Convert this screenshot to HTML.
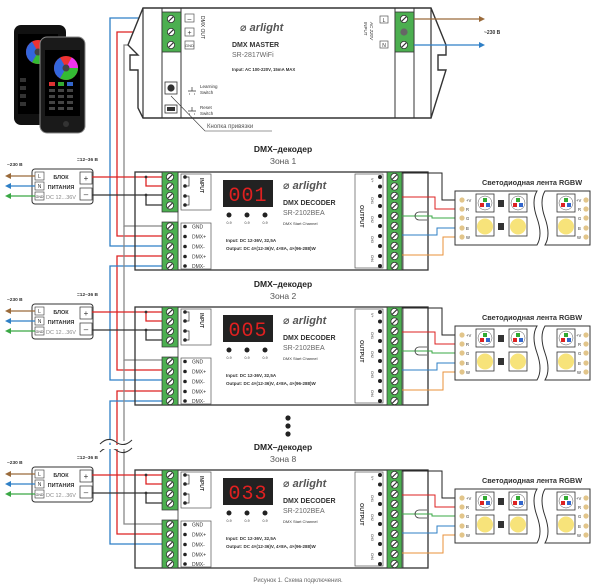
<!DOCTYPE html>
<html><head><meta charset="utf-8"><style>
html,body{margin:0;padding:0;background:#fff;}
svg{display:block;font-family:"Liberation Sans","DejaVu Sans",sans-serif;}
</style></head><body>
<svg width="600" height="588" viewBox="0 0 600 588" xmlns="http://www.w3.org/2000/svg">
<defs>
<g id="scr"><circle r="3.6" fill="#fff" stroke="#333" stroke-width="0.8"/><line x1="-2.2" y1="2.2" x2="2.2" y2="-2.2" stroke="#333" stroke-width="1.1"/></g>
<g id="wheel"><circle r="6" fill="none" stroke="#e33" stroke-width="12"/><circle r="6" fill="none" stroke="#3b3" stroke-width="12" stroke-dasharray="12.5 25.2"/><circle r="6" fill="none" stroke="#36d" stroke-width="12" stroke-dasharray="0 12.5 12.5 12.7"/><circle r="6" fill="none" stroke="#e3e" stroke-width="12" stroke-dasharray="0 31 6.7 0"/><circle r="3.5" fill="#444"/></g>
</defs>

<!-- phones -->
<rect x="14" y="25" width="52" height="100" rx="7" fill="#111"/>
<rect x="18" y="34" width="40" height="80" fill="#000"/>
<use href="#wheel" x="38" y="52"/>
<g fill="#333"><rect x="20" y="78" width="6" height="4"/><rect x="20" y="86" width="6" height="4"/><rect x="20" y="94" width="6" height="4"/><rect x="20" y="102" width="6" height="4"/></g>
<rect x="40" y="37" width="45" height="96" rx="7" fill="#1a1a1a" stroke="#888" stroke-width="1"/>
<rect x="45" y="50" width="35" height="66" fill="#000"/>
<use href="#wheel" x="66" y="68"/>
<rect x="49" y="82" width="6" height="4" fill="#d33"/><rect x="58" y="82" width="6" height="4" fill="#3a3"/><rect x="67" y="82" width="6" height="4" fill="#36c"/>
<g fill="#444"><rect x="49" y="89" width="6" height="3"/><rect x="58" y="89" width="6" height="3"/><rect x="67" y="89" width="6" height="3"/><rect x="49" y="95" width="6" height="3"/><rect x="58" y="95" width="6" height="3"/><rect x="67" y="95" width="6" height="3"/><rect x="49" y="101" width="6" height="3"/><rect x="58" y="101" width="6" height="3"/><rect x="67" y="101" width="6" height="3"/><rect x="49" y="107" width="6" height="3"/><rect x="58" y="107" width="6" height="3"/><rect x="67" y="107" width="6" height="3"/></g>
<circle cx="66" cy="124" r="3" fill="#333"/>

<!-- master wires -->
<polyline points="162,18 110,18 110,246 162,246" fill="none" stroke="#2e7fc6" stroke-width="1.3"/>
<polyline points="162,32 117,32 117,236 162,236" fill="none" stroke="#d22" stroke-width="1.3"/>
<polyline points="142,45 124,45 124,226 162,226" fill="none" stroke="#888" stroke-width="1.3"/>

<!-- master box -->
<path d="M143,8 L431,8 L446,45 L446,55 L438,55 L438,70 L446,70 L431,118 L143,118 L138,108 L138,70 L130,70 L130,55 L138,55 L128,45 Z" fill="#fff" stroke="#333" stroke-width="1.4"/>
<line x1="143" y1="8" x2="143" y2="118" stroke="#333" stroke-width="1.2"/>
<line x1="431" y1="8" x2="431" y2="118" stroke="#333" stroke-width="1.2"/>
<line x1="162" y1="8" x2="162" y2="118" stroke="#333" stroke-width="1"/>
<line x1="181" y1="8" x2="181" y2="118" stroke="#333" stroke-width="1"/>
<line x1="395" y1="8" x2="395" y2="118" stroke="#333" stroke-width="1"/>
<line x1="414" y1="8" x2="414" y2="118" stroke="#333" stroke-width="1"/>
<rect x="162" y="12" width="19" height="40" fill="#4caf50" stroke="#333" stroke-width="0.8"/>
<use href="#scr" x="171" y="19"/><use href="#scr" x="171" y="32"/><use href="#scr" x="171" y="45"/>
<g font-size="7" fill="#333" text-anchor="middle"><rect x="185" y="14" width="9" height="8" fill="none" stroke="#555" stroke-width="0.7"/><text x="189.5" y="21">–</text>
<rect x="185" y="28" width="9" height="8" fill="none" stroke="#555" stroke-width="0.7"/><text x="189.5" y="35">+</text>
<rect x="185" y="41" width="9" height="8" fill="none" stroke="#555" stroke-width="0.7"/><text x="189.5" y="47" font-size="4">GND</text></g>
<text transform="translate(201,16) rotate(90)" font-size="5" fill="#333">DMX OUT</text>
<text x="240" y="31" font-size="11" font-style="italic" font-weight="bold" fill="#555">⌀ arlight</text>
<text x="232" y="47" font-size="7" font-weight="bold" fill="#333">DMX MASTER</text>
<text x="232" y="57" font-size="7" fill="#666">SR-2817WiFi</text>
<text x="232" y="71" font-size="4.3" font-weight="bold" fill="#333">Input: AC 100-220V, 15mA MAX</text>
<rect x="165" y="82" width="12" height="12" fill="#fff" stroke="#333" stroke-width="0.8"/><circle cx="171" cy="88" r="3.6" fill="#333"/>
<rect x="165" y="105" width="12" height="8" fill="#fff" stroke="#333" stroke-width="0.8"/><rect x="167" y="107" width="8" height="4" fill="#333"/>
<g stroke="#333" stroke-width="0.7" fill="none"><path d="M188,91 h8 M192,91 v-4 M189,94 h1 M194,94 h1"/><path d="M188,111 h8 M192,111 v-4 M189,114 h1 M194,114 h1"/></g>
<text x="200" y="88" font-size="4.5" fill="#333">Learning</text><text x="200" y="94" font-size="4.5" fill="#333">Switch</text>
<text x="200" y="109" font-size="4.5" fill="#333">Reset</text><text x="200" y="115" font-size="4.5" fill="#333">Switch</text>
<polyline points="171,96 205,131 272,131" fill="none" stroke="#333" stroke-width="0.6"/>
<text x="207" y="128" font-size="6" fill="#555">Кнопка привязки</text>
<rect x="395" y="12" width="19" height="40" fill="#4caf50" stroke="#333" stroke-width="0.8"/>
<use href="#scr" x="404" y="19"/><circle cx="404" cy="32" r="3.6" fill="#666"/><use href="#scr" x="404" y="45"/>
<g font-size="5" fill="#333" text-anchor="middle"><rect x="380" y="16" width="8" height="7" fill="none" stroke="#555" stroke-width="0.7"/><text x="384" y="22">L</text>
<rect x="380" y="41" width="8" height="7" fill="none" stroke="#555" stroke-width="0.7"/><text x="384" y="47">N</text></g>
<text transform="translate(364,22) rotate(90)" font-size="4.5" fill="#333">INPUT</text>
<text transform="translate(370,22) rotate(90)" font-size="4.5" fill="#333" font-style="italic">AC 220V</text>
<line x1="414" y1="19" x2="480" y2="19" stroke="#9a6a3a" stroke-width="1.2"/><path d="M479,16 L485,19 L479,22 Z" fill="#9a6a3a"/>
<line x1="414" y1="45" x2="480" y2="45" stroke="#2e7fc6" stroke-width="1.2"/><path d="M479,42 L485,45 L479,48 Z" fill="#2e7fc6"/>
<text x="484" y="34" font-size="5" font-weight="bold" fill="#333">~230 В</text>

<!-- inter-zone DMX wires -->
<polyline points="162,256 117,256 117,370 162,370" fill="none" stroke="#d22" stroke-width="1.3"/>
<polyline points="162,266 110,266 110,380 162,380" fill="none" stroke="#2e7fc6" stroke-width="1.3"/>
<polyline points="124,226 124,360 162,360" fill="none" stroke="#888" stroke-width="1.3"/>
<polyline points="162,391 117,391 117,534 162,534" fill="none" stroke="#d22" stroke-width="1.3"/>
<polyline points="162,401 110,401 110,544 162,544" fill="none" stroke="#2e7fc6" stroke-width="1.3"/>
<polyline points="124,360 124,524 162,524" fill="none" stroke="#888" stroke-width="1.3"/>
<path d="M100,444 q8,-8 16,-2 q8,6 16,-2" fill="#fff" stroke="#333" stroke-width="1"/>
<path d="M100,452 q8,-8 16,-2 q8,6 16,-2" fill="none" stroke="#333" stroke-width="1"/>
<rect x="103" y="445" width="26" height="4" fill="#fff"/>
<g fill="#222"><circle cx="288" cy="418" r="2.6"/><circle cx="288" cy="426" r="2.6"/><circle cx="288" cy="434" r="2.6"/></g>

<!-- ZONE 1 -->
<g id="z1">
<text x="283" y="152" font-size="8.5" font-weight="bold" fill="#222" text-anchor="middle">DMX–декодер</text>
<text x="283" y="164" font-size="8.5" fill="#555" text-anchor="middle">Зона 1</text>
<rect x="32" y="169" width="61" height="35" rx="3" fill="#fff" stroke="#333" stroke-width="1"/>
<g font-size="5" fill="#333" text-anchor="middle"><rect x="35" y="172" width="9" height="8" fill="none" stroke="#333" stroke-width="0.6"/><text x="39.5" y="178">L</text><rect x="35" y="182" width="9" height="8" fill="none" stroke="#333" stroke-width="0.6"/><text x="39.5" y="188">N</text><rect x="35" y="192" width="9" height="8" fill="none" stroke="#333" stroke-width="0.6"/><text x="39.5" y="198" font-size="3.5">GND</text>
<text x="61" y="179" font-weight="bold" font-size="5.5">БЛОК</text><text x="61" y="189" font-weight="bold" font-size="5.5">ПИТАНИЯ</text><text x="61" y="199" fill="#888" font-size="5.5">DC 12...36V</text>
<rect x="80" y="172" width="12" height="12" fill="none" stroke="#333" stroke-width="0.7"/><text x="86" y="181" font-size="8">+</text><rect x="80" y="188" width="12" height="12" fill="none" stroke="#333" stroke-width="0.7"/><text x="86" y="197" font-size="8">–</text></g>
<text x="7" y="166" font-size="4.8" font-weight="bold" fill="#333">~230 В</text>
<text x="77" y="161" font-size="4.8" font-weight="bold" fill="#333">=12–36 В</text>
<line x1="10" y1="176" x2="35" y2="176" stroke="#9a6a3a" stroke-width="1.2"/><path d="M11,173 L5,176 L11,179Z" fill="#9a6a3a"/>
<line x1="10" y1="186" x2="35" y2="186" stroke="#2e7fc6" stroke-width="1.2"/><path d="M11,183 L5,186 L11,189Z" fill="#2e7fc6"/>
<line x1="10" y1="196" x2="35" y2="196" stroke="#3aa845" stroke-width="1.2"/><path d="M11,193 L5,196 L11,199Z" fill="#3aa845"/>
<polyline points="92,177 162,177" fill="none" stroke="#d22" stroke-width="1.3"/><polyline points="146,177 146,186 162,186" fill="none" stroke="#d22" stroke-width="1.3"/><circle cx="146" cy="177" r="1.4" fill="#333"/>
<polyline points="92,195 162,195" fill="none" stroke="#333" stroke-width="1.3"/><polyline points="146,195 146,205 162,205" fill="none" stroke="#333" stroke-width="1.3"/><circle cx="146" cy="195" r="1.4" fill="#333"/>
<rect x="135" y="172" width="293" height="98" fill="none" stroke="#333" stroke-width="1.3"/>
<line x1="178" y1="172" x2="178" y2="270" stroke="#333" stroke-width="0.8"/>
<rect x="162" y="172" width="16" height="40" fill="#4caf50" stroke="#333" stroke-width="0.7"/>
<use href="#scr" x="170" y="177"/><use href="#scr" x="170" y="186.5"/><use href="#scr" x="170" y="196"/><use href="#scr" x="170" y="205.5"/>
<rect x="162" y="222" width="16" height="48" fill="#4caf50" stroke="#333" stroke-width="0.7"/>
<use href="#scr" x="170" y="226.5"/><use href="#scr" x="170" y="236.5"/><use href="#scr" x="170" y="246.5"/><use href="#scr" x="170" y="256.5"/><use href="#scr" x="170" y="266"/>
<rect x="181" y="174" width="30" height="36" fill="none" stroke="#555" stroke-width="0.7"/>
<g fill="#222"><circle cx="185" cy="177" r="1.8"/><circle cx="185" cy="186" r="1.8"/><circle cx="185" cy="196" r="1.8"/><circle cx="185" cy="205" r="1.8"/></g>
<path d="M185,177 h4 v9 h-4 M185,196 h4 v9 h-4" fill="none" stroke="#333" stroke-width="0.7"/>
<text transform="translate(200,178) rotate(90)" font-size="5" font-weight="bold" fill="#333">INPUT</text>
<rect x="181" y="223" width="30" height="46" fill="none" stroke="#555" stroke-width="0.7"/>
<g fill="#222"><circle cx="185" cy="226.5" r="1.8"/><circle cx="185" cy="236.5" r="1.8"/><circle cx="185" cy="246.5" r="1.8"/><circle cx="185" cy="256.5" r="1.8"/><circle cx="185" cy="266" r="1.8"/></g>
<g font-size="5" fill="#333"><text x="192" y="228.5">GND</text><text x="192" y="238.5">DMX+</text><text x="192" y="248.5">DMX-</text><text x="192" y="258.5">DMX+</text><text x="192" y="268">DMX-</text></g>
<rect x="223" y="180" width="50" height="27" fill="#222"/>
<text x="248" y="201" font-size="20" fill="#e02020" text-anchor="middle" font-family="Liberation Mono,monospace" letter-spacing="1">001</text>
<g fill="#222"><circle cx="229" cy="215" r="2.5"/><circle cx="247" cy="215" r="2.5"/><circle cx="265" cy="215" r="2.5"/></g>
<g font-size="3.5" fill="#333" text-anchor="middle"><text x="229" y="224">0-9</text><text x="247" y="224">0-9</text><text x="265" y="224">0-9</text></g>
<text x="283" y="189" font-size="11" font-style="italic" font-weight="bold" fill="#555">⌀ arlight</text>
<text x="283" y="205" font-size="7" font-weight="bold" fill="#333">DMX DECODER</text>
<text x="283" y="215" font-size="7" fill="#666">SR-2102BEA</text>
<text x="283" y="225" font-size="4" fill="#333">DMX Start Channel</text>
<text x="226" y="242" font-size="4.5" font-weight="bold" fill="#333">Input: DC 12-36V, 32,5A</text>
<text x="226" y="250" font-size="4.5" font-weight="bold" fill="#333">Output: DC 4×(12-36)V, 4×8A, 4×(96-288)W</text>
<rect x="355" y="174" width="28" height="94" fill="none" stroke="#555" stroke-width="0.7"/>
<text transform="translate(360,205) rotate(90)" font-size="5.5" font-weight="bold" fill="#333">OUTPUT</text>
<g fill="#222"><circle cx="380" cy="177" r="2"/><circle cx="380" cy="186.5" r="2"/><circle cx="380" cy="196" r="2"/><circle cx="380" cy="206" r="2"/><circle cx="380" cy="216" r="2"/><circle cx="380" cy="226" r="2"/><circle cx="380" cy="236" r="2"/><circle cx="380" cy="246" r="2"/><circle cx="380" cy="256" r="2"/><circle cx="380" cy="266" r="2"/></g>
<g font-size="3.5" fill="#333"><text transform="translate(371,178) rotate(90)">V+</text><text transform="translate(371,197) rotate(90)">CH1</text><text transform="translate(371,216) rotate(90)">CH2</text><text transform="translate(371,236) rotate(90)">CH3</text><text transform="translate(371,255) rotate(90)">CH4</text></g>
<rect x="387" y="172" width="15" height="98" fill="#4caf50" stroke="#333" stroke-width="0.7"/>
<g><use href="#scr" x="394.5" y="177"/><use href="#scr" x="394.5" y="186.5"/><use href="#scr" x="394.5" y="196"/><use href="#scr" x="394.5" y="206"/><use href="#scr" x="394.5" y="216"/><use href="#scr" x="394.5" y="226"/><use href="#scr" x="394.5" y="236"/><use href="#scr" x="394.5" y="246"/><use href="#scr" x="394.5" y="256"/><use href="#scr" x="394.5" y="266"/></g>
<line x1="403" y1="172" x2="403" y2="270" stroke="#333" stroke-width="0.8"/>
<polyline points="402,173 442,173 442,200 462,200" fill="none" stroke="#222" stroke-width="1"/>
<polyline points="402,197 435,197 435,209 462,209" fill="none" stroke="#d22" stroke-width="1"/>
<polyline points="402,216 432,216 432,218 462,218" fill="none" stroke="#3aa845" stroke-width="1"/>
<path d="M427,212 h-8 a4,4 0 0 0 0,8 h8" fill="none" stroke="#333" stroke-width="0.8"/>
<polyline points="402,235 437,235 437,228 462,228" fill="none" stroke="#2e7fc6" stroke-width="1"/>
<polyline points="402,255 443,255 443,237 462,237" fill="none" stroke="#e8913a" stroke-width="1"/>
<text x="482" y="185" font-size="7.3" font-weight="bold" fill="#333">Светодиодная лента RGBW</text>
<path d="M455,191 H537 q-6,10 0,27 q6,17 0,27 H455 Z" fill="#fff" stroke="#333" stroke-width="1"/>
<path d="M545,191 H590 V245 H545 q6,-10 0,-27 q-6,-17 0,-27 Z" fill="#fff" stroke="#333" stroke-width="1"/>
<g fill="#e2c58a"><circle cx="462" cy="200" r="2.6"/><circle cx="462" cy="209" r="2.6"/><circle cx="462" cy="218" r="2.6"/><circle cx="462" cy="228" r="2.6"/><circle cx="462" cy="237" r="2.6"/><circle cx="586" cy="200" r="2.6"/><circle cx="586" cy="209" r="2.6"/><circle cx="586" cy="218" r="2.6"/><circle cx="586" cy="228" r="2.6"/><circle cx="586" cy="237" r="2.6"/></g>
<g font-size="4.2" fill="#333"><text x="466" y="202">+V</text><text x="466" y="211">R</text><text x="466" y="220">G</text><text x="466" y="230">B</text><text x="466" y="239">W</text>
<text x="576" y="202">+V</text><text x="578" y="211">R</text><text x="578" y="220">G</text><text x="578" y="230">B</text><text x="577" y="239">W</text></g>
<g stroke="#333" stroke-width="0.8">
<rect x="476" y="194" width="18" height="18" fill="#fff"/><rect x="509" y="194" width="18" height="18" fill="#fff"/><rect x="557" y="194" width="18" height="18" fill="#fff"/>
<rect x="476" y="217" width="18" height="19" fill="#fff"/><rect x="509" y="217" width="18" height="19" fill="#fff"/><rect x="557" y="217" width="18" height="19" fill="#fff"/></g>
<g fill="#f7e37a"><circle cx="485" cy="226.5" r="8"/><circle cx="518" cy="226.5" r="8"/><circle cx="566" cy="226.5" r="8"/></g>
<g><circle cx="485" cy="203" r="7" fill="#fff" stroke="#555" stroke-width="0.5"/><rect x="483" y="198" width="4" height="4" fill="#3a3"/><rect x="480" y="203" width="4" height="4" fill="#d22"/><rect x="486" y="203" width="4" height="4" fill="#36c"/>
<circle cx="518" cy="203" r="7" fill="#fff" stroke="#555" stroke-width="0.5"/><rect x="516" y="198" width="4" height="4" fill="#3a3"/><rect x="513" y="203" width="4" height="4" fill="#d22"/><rect x="519" y="203" width="4" height="4" fill="#36c"/>
<circle cx="566" cy="203" r="7" fill="#fff" stroke="#555" stroke-width="0.5"/><rect x="564" y="198" width="4" height="4" fill="#3a3"/><rect x="561" y="203" width="4" height="4" fill="#d22"/><rect x="567" y="203" width="4" height="4" fill="#36c"/></g>
<rect x="498" y="200" width="6" height="7" fill="#333"/><rect x="498" y="223" width="6" height="7" fill="#333"/>
</g>

<!-- ZONE 2 -->
<g transform="translate(0,135)">
<text x="283" y="152" font-size="8.5" font-weight="bold" fill="#222" text-anchor="middle">DMX–декодер</text>
<text x="283" y="164" font-size="8.5" fill="#555" text-anchor="middle">Зона 2</text>
<rect x="32" y="169" width="61" height="35" rx="3" fill="#fff" stroke="#333" stroke-width="1"/>
<g font-size="5" fill="#333" text-anchor="middle"><rect x="35" y="172" width="9" height="8" fill="none" stroke="#333" stroke-width="0.6"/><text x="39.5" y="178">L</text><rect x="35" y="182" width="9" height="8" fill="none" stroke="#333" stroke-width="0.6"/><text x="39.5" y="188">N</text><rect x="35" y="192" width="9" height="8" fill="none" stroke="#333" stroke-width="0.6"/><text x="39.5" y="198" font-size="3.5">GND</text>
<text x="61" y="179" font-weight="bold" font-size="5.5">БЛОК</text><text x="61" y="189" font-weight="bold" font-size="5.5">ПИТАНИЯ</text><text x="61" y="199" fill="#888" font-size="5.5">DC 12...36V</text>
<rect x="80" y="172" width="12" height="12" fill="none" stroke="#333" stroke-width="0.7"/><text x="86" y="181" font-size="8">+</text><rect x="80" y="188" width="12" height="12" fill="none" stroke="#333" stroke-width="0.7"/><text x="86" y="197" font-size="8">–</text></g>
<text x="7" y="166" font-size="4.8" font-weight="bold" fill="#333">~230 В</text>
<text x="77" y="161" font-size="4.8" font-weight="bold" fill="#333">=12–36 В</text>
<line x1="10" y1="176" x2="35" y2="176" stroke="#9a6a3a" stroke-width="1.2"/><path d="M11,173 L5,176 L11,179Z" fill="#9a6a3a"/>
<line x1="10" y1="186" x2="35" y2="186" stroke="#2e7fc6" stroke-width="1.2"/><path d="M11,183 L5,186 L11,189Z" fill="#2e7fc6"/>
<line x1="10" y1="196" x2="35" y2="196" stroke="#3aa845" stroke-width="1.2"/><path d="M11,193 L5,196 L11,199Z" fill="#3aa845"/>
<polyline points="92,177 162,177" fill="none" stroke="#d22" stroke-width="1.3"/><polyline points="146,177 146,186 162,186" fill="none" stroke="#d22" stroke-width="1.3"/><circle cx="146" cy="177" r="1.4" fill="#333"/>
<polyline points="92,195 162,195" fill="none" stroke="#333" stroke-width="1.3"/><polyline points="146,195 146,205 162,205" fill="none" stroke="#333" stroke-width="1.3"/><circle cx="146" cy="195" r="1.4" fill="#333"/>
<rect x="135" y="172" width="293" height="98" fill="none" stroke="#333" stroke-width="1.3"/>
<line x1="178" y1="172" x2="178" y2="270" stroke="#333" stroke-width="0.8"/>
<rect x="162" y="172" width="16" height="40" fill="#4caf50" stroke="#333" stroke-width="0.7"/>
<use href="#scr" x="170" y="177"/><use href="#scr" x="170" y="186.5"/><use href="#scr" x="170" y="196"/><use href="#scr" x="170" y="205.5"/>
<rect x="162" y="222" width="16" height="48" fill="#4caf50" stroke="#333" stroke-width="0.7"/>
<use href="#scr" x="170" y="226.5"/><use href="#scr" x="170" y="236.5"/><use href="#scr" x="170" y="246.5"/><use href="#scr" x="170" y="256.5"/><use href="#scr" x="170" y="266"/>
<rect x="181" y="174" width="30" height="36" fill="none" stroke="#555" stroke-width="0.7"/>
<g fill="#222"><circle cx="185" cy="177" r="1.8"/><circle cx="185" cy="186" r="1.8"/><circle cx="185" cy="196" r="1.8"/><circle cx="185" cy="205" r="1.8"/></g>
<path d="M185,177 h4 v9 h-4 M185,196 h4 v9 h-4" fill="none" stroke="#333" stroke-width="0.7"/>
<text transform="translate(200,178) rotate(90)" font-size="5" font-weight="bold" fill="#333">INPUT</text>
<rect x="181" y="223" width="30" height="46" fill="none" stroke="#555" stroke-width="0.7"/>
<g fill="#222"><circle cx="185" cy="226.5" r="1.8"/><circle cx="185" cy="236.5" r="1.8"/><circle cx="185" cy="246.5" r="1.8"/><circle cx="185" cy="256.5" r="1.8"/><circle cx="185" cy="266" r="1.8"/></g>
<g font-size="5" fill="#333"><text x="192" y="228.5">GND</text><text x="192" y="238.5">DMX+</text><text x="192" y="248.5">DMX-</text><text x="192" y="258.5">DMX+</text><text x="192" y="268">DMX-</text></g>
<rect x="223" y="180" width="50" height="27" fill="#222"/>
<text x="248" y="201" font-size="20" fill="#e02020" text-anchor="middle" font-family="Liberation Mono,monospace" letter-spacing="1">005</text>
<g fill="#222"><circle cx="229" cy="215" r="2.5"/><circle cx="247" cy="215" r="2.5"/><circle cx="265" cy="215" r="2.5"/></g>
<g font-size="3.5" fill="#333" text-anchor="middle"><text x="229" y="224">0-9</text><text x="247" y="224">0-9</text><text x="265" y="224">0-9</text></g>
<text x="283" y="189" font-size="11" font-style="italic" font-weight="bold" fill="#555">⌀ arlight</text>
<text x="283" y="205" font-size="7" font-weight="bold" fill="#333">DMX DECODER</text>
<text x="283" y="215" font-size="7" fill="#666">SR-2102BEA</text>
<text x="283" y="225" font-size="4" fill="#333">DMX Start Channel</text>
<text x="226" y="242" font-size="4.5" font-weight="bold" fill="#333">Input: DC 12-36V, 32,5A</text>
<text x="226" y="250" font-size="4.5" font-weight="bold" fill="#333">Output: DC 4×(12-36)V, 4×8A, 4×(96-288)W</text>
<rect x="355" y="174" width="28" height="94" fill="none" stroke="#555" stroke-width="0.7"/>
<text transform="translate(360,205) rotate(90)" font-size="5.5" font-weight="bold" fill="#333">OUTPUT</text>
<g fill="#222"><circle cx="380" cy="177" r="2"/><circle cx="380" cy="186.5" r="2"/><circle cx="380" cy="196" r="2"/><circle cx="380" cy="206" r="2"/><circle cx="380" cy="216" r="2"/><circle cx="380" cy="226" r="2"/><circle cx="380" cy="236" r="2"/><circle cx="380" cy="246" r="2"/><circle cx="380" cy="256" r="2"/><circle cx="380" cy="266" r="2"/></g>
<g font-size="3.5" fill="#333"><text transform="translate(371,178) rotate(90)">V+</text><text transform="translate(371,197) rotate(90)">CH1</text><text transform="translate(371,216) rotate(90)">CH2</text><text transform="translate(371,236) rotate(90)">CH3</text><text transform="translate(371,255) rotate(90)">CH4</text></g>
<rect x="387" y="172" width="15" height="98" fill="#4caf50" stroke="#333" stroke-width="0.7"/>
<g><use href="#scr" x="394.5" y="177"/><use href="#scr" x="394.5" y="186.5"/><use href="#scr" x="394.5" y="196"/><use href="#scr" x="394.5" y="206"/><use href="#scr" x="394.5" y="216"/><use href="#scr" x="394.5" y="226"/><use href="#scr" x="394.5" y="236"/><use href="#scr" x="394.5" y="246"/><use href="#scr" x="394.5" y="256"/><use href="#scr" x="394.5" y="266"/></g>
<line x1="403" y1="172" x2="403" y2="270" stroke="#333" stroke-width="0.8"/>
<polyline points="402,173 442,173 442,200 462,200" fill="none" stroke="#222" stroke-width="1"/>
<polyline points="402,197 435,197 435,209 462,209" fill="none" stroke="#d22" stroke-width="1"/>
<polyline points="402,216 432,216 432,218 462,218" fill="none" stroke="#3aa845" stroke-width="1"/>
<path d="M427,212 h-8 a4,4 0 0 0 0,8 h8" fill="none" stroke="#333" stroke-width="0.8"/>
<polyline points="402,235 437,235 437,228 462,228" fill="none" stroke="#2e7fc6" stroke-width="1"/>
<polyline points="402,255 443,255 443,237 462,237" fill="none" stroke="#e8913a" stroke-width="1"/>
<text x="482" y="185" font-size="7.3" font-weight="bold" fill="#333">Светодиодная лента RGBW</text>
<path d="M455,191 H537 q-6,10 0,27 q6,17 0,27 H455 Z" fill="#fff" stroke="#333" stroke-width="1"/>
<path d="M545,191 H590 V245 H545 q6,-10 0,-27 q-6,-17 0,-27 Z" fill="#fff" stroke="#333" stroke-width="1"/>
<g fill="#e2c58a"><circle cx="462" cy="200" r="2.6"/><circle cx="462" cy="209" r="2.6"/><circle cx="462" cy="218" r="2.6"/><circle cx="462" cy="228" r="2.6"/><circle cx="462" cy="237" r="2.6"/><circle cx="586" cy="200" r="2.6"/><circle cx="586" cy="209" r="2.6"/><circle cx="586" cy="218" r="2.6"/><circle cx="586" cy="228" r="2.6"/><circle cx="586" cy="237" r="2.6"/></g>
<g font-size="4.2" fill="#333"><text x="466" y="202">+V</text><text x="466" y="211">R</text><text x="466" y="220">G</text><text x="466" y="230">B</text><text x="466" y="239">W</text>
<text x="576" y="202">+V</text><text x="578" y="211">R</text><text x="578" y="220">G</text><text x="578" y="230">B</text><text x="577" y="239">W</text></g>
<g stroke="#333" stroke-width="0.8">
<rect x="476" y="194" width="18" height="18" fill="#fff"/><rect x="509" y="194" width="18" height="18" fill="#fff"/><rect x="557" y="194" width="18" height="18" fill="#fff"/>
<rect x="476" y="217" width="18" height="19" fill="#fff"/><rect x="509" y="217" width="18" height="19" fill="#fff"/><rect x="557" y="217" width="18" height="19" fill="#fff"/></g>
<g fill="#f7e37a"><circle cx="485" cy="226.5" r="8"/><circle cx="518" cy="226.5" r="8"/><circle cx="566" cy="226.5" r="8"/></g>
<g><circle cx="485" cy="203" r="7" fill="#fff" stroke="#555" stroke-width="0.5"/><rect x="483" y="198" width="4" height="4" fill="#3a3"/><rect x="480" y="203" width="4" height="4" fill="#d22"/><rect x="486" y="203" width="4" height="4" fill="#36c"/>
<circle cx="518" cy="203" r="7" fill="#fff" stroke="#555" stroke-width="0.5"/><rect x="516" y="198" width="4" height="4" fill="#3a3"/><rect x="513" y="203" width="4" height="4" fill="#d22"/><rect x="519" y="203" width="4" height="4" fill="#36c"/>
<circle cx="566" cy="203" r="7" fill="#fff" stroke="#555" stroke-width="0.5"/><rect x="564" y="198" width="4" height="4" fill="#3a3"/><rect x="561" y="203" width="4" height="4" fill="#d22"/><rect x="567" y="203" width="4" height="4" fill="#36c"/></g>
<rect x="498" y="200" width="6" height="7" fill="#333"/><rect x="498" y="223" width="6" height="7" fill="#333"/>
</g>

<!-- ZONE 8 -->
<g transform="translate(0,298)">
<text x="283" y="152" font-size="8.5" font-weight="bold" fill="#222" text-anchor="middle">DMX–декодер</text>
<text x="283" y="164" font-size="8.5" fill="#555" text-anchor="middle">Зона 8</text>
<rect x="32" y="169" width="61" height="35" rx="3" fill="#fff" stroke="#333" stroke-width="1"/>
<g font-size="5" fill="#333" text-anchor="middle"><rect x="35" y="172" width="9" height="8" fill="none" stroke="#333" stroke-width="0.6"/><text x="39.5" y="178">L</text><rect x="35" y="182" width="9" height="8" fill="none" stroke="#333" stroke-width="0.6"/><text x="39.5" y="188">N</text><rect x="35" y="192" width="9" height="8" fill="none" stroke="#333" stroke-width="0.6"/><text x="39.5" y="198" font-size="3.5">GND</text>
<text x="61" y="179" font-weight="bold" font-size="5.5">БЛОК</text><text x="61" y="189" font-weight="bold" font-size="5.5">ПИТАНИЯ</text><text x="61" y="199" fill="#888" font-size="5.5">DC 12...36V</text>
<rect x="80" y="172" width="12" height="12" fill="none" stroke="#333" stroke-width="0.7"/><text x="86" y="181" font-size="8">+</text><rect x="80" y="188" width="12" height="12" fill="none" stroke="#333" stroke-width="0.7"/><text x="86" y="197" font-size="8">–</text></g>
<text x="7" y="166" font-size="4.8" font-weight="bold" fill="#333">~230 В</text>
<text x="77" y="161" font-size="4.8" font-weight="bold" fill="#333">=12–36 В</text>
<line x1="10" y1="176" x2="35" y2="176" stroke="#9a6a3a" stroke-width="1.2"/><path d="M11,173 L5,176 L11,179Z" fill="#9a6a3a"/>
<line x1="10" y1="186" x2="35" y2="186" stroke="#2e7fc6" stroke-width="1.2"/><path d="M11,183 L5,186 L11,189Z" fill="#2e7fc6"/>
<line x1="10" y1="196" x2="35" y2="196" stroke="#3aa845" stroke-width="1.2"/><path d="M11,193 L5,196 L11,199Z" fill="#3aa845"/>
<polyline points="92,177 162,177" fill="none" stroke="#d22" stroke-width="1.3"/><polyline points="146,177 146,186 162,186" fill="none" stroke="#d22" stroke-width="1.3"/><circle cx="146" cy="177" r="1.4" fill="#333"/>
<polyline points="92,195 162,195" fill="none" stroke="#333" stroke-width="1.3"/><polyline points="146,195 146,205 162,205" fill="none" stroke="#333" stroke-width="1.3"/><circle cx="146" cy="195" r="1.4" fill="#333"/>
<rect x="135" y="172" width="293" height="98" fill="none" stroke="#333" stroke-width="1.3"/>
<line x1="178" y1="172" x2="178" y2="270" stroke="#333" stroke-width="0.8"/>
<rect x="162" y="172" width="16" height="40" fill="#4caf50" stroke="#333" stroke-width="0.7"/>
<use href="#scr" x="170" y="177"/><use href="#scr" x="170" y="186.5"/><use href="#scr" x="170" y="196"/><use href="#scr" x="170" y="205.5"/>
<rect x="162" y="222" width="16" height="48" fill="#4caf50" stroke="#333" stroke-width="0.7"/>
<use href="#scr" x="170" y="226.5"/><use href="#scr" x="170" y="236.5"/><use href="#scr" x="170" y="246.5"/><use href="#scr" x="170" y="256.5"/><use href="#scr" x="170" y="266"/>
<rect x="181" y="174" width="30" height="36" fill="none" stroke="#555" stroke-width="0.7"/>
<g fill="#222"><circle cx="185" cy="177" r="1.8"/><circle cx="185" cy="186" r="1.8"/><circle cx="185" cy="196" r="1.8"/><circle cx="185" cy="205" r="1.8"/></g>
<path d="M185,177 h4 v9 h-4 M185,196 h4 v9 h-4" fill="none" stroke="#333" stroke-width="0.7"/>
<text transform="translate(200,178) rotate(90)" font-size="5" font-weight="bold" fill="#333">INPUT</text>
<rect x="181" y="223" width="30" height="46" fill="none" stroke="#555" stroke-width="0.7"/>
<g fill="#222"><circle cx="185" cy="226.5" r="1.8"/><circle cx="185" cy="236.5" r="1.8"/><circle cx="185" cy="246.5" r="1.8"/><circle cx="185" cy="256.5" r="1.8"/><circle cx="185" cy="266" r="1.8"/></g>
<g font-size="5" fill="#333"><text x="192" y="228.5">GND</text><text x="192" y="238.5">DMX+</text><text x="192" y="248.5">DMX-</text><text x="192" y="258.5">DMX+</text><text x="192" y="268">DMX-</text></g>
<rect x="223" y="180" width="50" height="27" fill="#222"/>
<text x="248" y="201" font-size="20" fill="#e02020" text-anchor="middle" font-family="Liberation Mono,monospace" letter-spacing="1">033</text>
<g fill="#222"><circle cx="229" cy="215" r="2.5"/><circle cx="247" cy="215" r="2.5"/><circle cx="265" cy="215" r="2.5"/></g>
<g font-size="3.5" fill="#333" text-anchor="middle"><text x="229" y="224">0-9</text><text x="247" y="224">0-9</text><text x="265" y="224">0-9</text></g>
<text x="283" y="189" font-size="11" font-style="italic" font-weight="bold" fill="#555">⌀ arlight</text>
<text x="283" y="205" font-size="7" font-weight="bold" fill="#333">DMX DECODER</text>
<text x="283" y="215" font-size="7" fill="#666">SR-2102BEA</text>
<text x="283" y="225" font-size="4" fill="#333">DMX Start Channel</text>
<text x="226" y="242" font-size="4.5" font-weight="bold" fill="#333">Input: DC 12-36V, 32,5A</text>
<text x="226" y="250" font-size="4.5" font-weight="bold" fill="#333">Output: DC 4×(12-36)V, 4×8A, 4×(96-288)W</text>
<rect x="355" y="174" width="28" height="94" fill="none" stroke="#555" stroke-width="0.7"/>
<text transform="translate(360,205) rotate(90)" font-size="5.5" font-weight="bold" fill="#333">OUTPUT</text>
<g fill="#222"><circle cx="380" cy="177" r="2"/><circle cx="380" cy="186.5" r="2"/><circle cx="380" cy="196" r="2"/><circle cx="380" cy="206" r="2"/><circle cx="380" cy="216" r="2"/><circle cx="380" cy="226" r="2"/><circle cx="380" cy="236" r="2"/><circle cx="380" cy="246" r="2"/><circle cx="380" cy="256" r="2"/><circle cx="380" cy="266" r="2"/></g>
<g font-size="3.5" fill="#333"><text transform="translate(371,178) rotate(90)">V+</text><text transform="translate(371,197) rotate(90)">CH1</text><text transform="translate(371,216) rotate(90)">CH2</text><text transform="translate(371,236) rotate(90)">CH3</text><text transform="translate(371,255) rotate(90)">CH4</text></g>
<rect x="387" y="172" width="15" height="98" fill="#4caf50" stroke="#333" stroke-width="0.7"/>
<g><use href="#scr" x="394.5" y="177"/><use href="#scr" x="394.5" y="186.5"/><use href="#scr" x="394.5" y="196"/><use href="#scr" x="394.5" y="206"/><use href="#scr" x="394.5" y="216"/><use href="#scr" x="394.5" y="226"/><use href="#scr" x="394.5" y="236"/><use href="#scr" x="394.5" y="246"/><use href="#scr" x="394.5" y="256"/><use href="#scr" x="394.5" y="266"/></g>
<line x1="403" y1="172" x2="403" y2="270" stroke="#333" stroke-width="0.8"/>
<polyline points="402,173 442,173 442,200 462,200" fill="none" stroke="#222" stroke-width="1"/>
<polyline points="402,197 435,197 435,209 462,209" fill="none" stroke="#d22" stroke-width="1"/>
<polyline points="402,216 432,216 432,218 462,218" fill="none" stroke="#3aa845" stroke-width="1"/>
<path d="M427,212 h-8 a4,4 0 0 0 0,8 h8" fill="none" stroke="#333" stroke-width="0.8"/>
<polyline points="402,235 437,235 437,228 462,228" fill="none" stroke="#2e7fc6" stroke-width="1"/>
<polyline points="402,255 443,255 443,237 462,237" fill="none" stroke="#e8913a" stroke-width="1"/>
<text x="482" y="185" font-size="7.3" font-weight="bold" fill="#333">Светодиодная лента RGBW</text>
<path d="M455,191 H537 q-6,10 0,27 q6,17 0,27 H455 Z" fill="#fff" stroke="#333" stroke-width="1"/>
<path d="M545,191 H590 V245 H545 q6,-10 0,-27 q-6,-17 0,-27 Z" fill="#fff" stroke="#333" stroke-width="1"/>
<g fill="#e2c58a"><circle cx="462" cy="200" r="2.6"/><circle cx="462" cy="209" r="2.6"/><circle cx="462" cy="218" r="2.6"/><circle cx="462" cy="228" r="2.6"/><circle cx="462" cy="237" r="2.6"/><circle cx="586" cy="200" r="2.6"/><circle cx="586" cy="209" r="2.6"/><circle cx="586" cy="218" r="2.6"/><circle cx="586" cy="228" r="2.6"/><circle cx="586" cy="237" r="2.6"/></g>
<g font-size="4.2" fill="#333"><text x="466" y="202">+V</text><text x="466" y="211">R</text><text x="466" y="220">G</text><text x="466" y="230">B</text><text x="466" y="239">W</text>
<text x="576" y="202">+V</text><text x="578" y="211">R</text><text x="578" y="220">G</text><text x="578" y="230">B</text><text x="577" y="239">W</text></g>
<g stroke="#333" stroke-width="0.8">
<rect x="476" y="194" width="18" height="18" fill="#fff"/><rect x="509" y="194" width="18" height="18" fill="#fff"/><rect x="557" y="194" width="18" height="18" fill="#fff"/>
<rect x="476" y="217" width="18" height="19" fill="#fff"/><rect x="509" y="217" width="18" height="19" fill="#fff"/><rect x="557" y="217" width="18" height="19" fill="#fff"/></g>
<g fill="#f7e37a"><circle cx="485" cy="226.5" r="8"/><circle cx="518" cy="226.5" r="8"/><circle cx="566" cy="226.5" r="8"/></g>
<g><circle cx="485" cy="203" r="7" fill="#fff" stroke="#555" stroke-width="0.5"/><rect x="483" y="198" width="4" height="4" fill="#3a3"/><rect x="480" y="203" width="4" height="4" fill="#d22"/><rect x="486" y="203" width="4" height="4" fill="#36c"/>
<circle cx="518" cy="203" r="7" fill="#fff" stroke="#555" stroke-width="0.5"/><rect x="516" y="198" width="4" height="4" fill="#3a3"/><rect x="513" y="203" width="4" height="4" fill="#d22"/><rect x="519" y="203" width="4" height="4" fill="#36c"/>
<circle cx="566" cy="203" r="7" fill="#fff" stroke="#555" stroke-width="0.5"/><rect x="564" y="198" width="4" height="4" fill="#3a3"/><rect x="561" y="203" width="4" height="4" fill="#d22"/><rect x="567" y="203" width="4" height="4" fill="#36c"/></g>
<rect x="498" y="200" width="6" height="7" fill="#333"/><rect x="498" y="223" width="6" height="7" fill="#333"/>
</g>

<text x="298" y="582" font-size="6" fill="#666" text-anchor="middle">Рисунок 1. Схема подключения.</text>
</svg>
</body></html>
